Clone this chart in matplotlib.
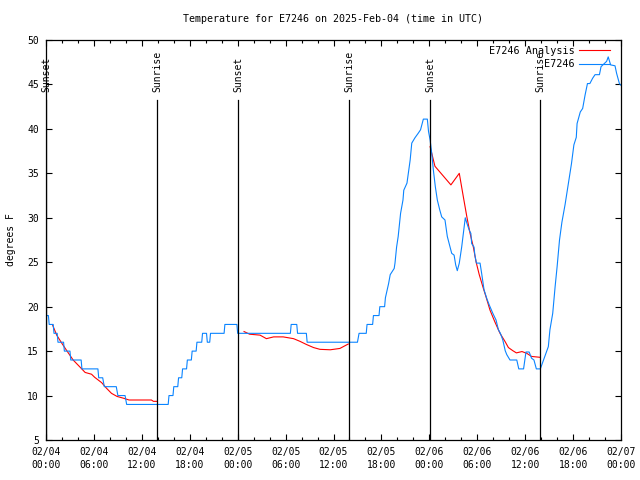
import numpy as np
import matplotlib
matplotlib.use("Agg")
import matplotlib.pyplot as plt

# hours since 2025-02-04 00:00 UTC
obs_t = [0.0, 0.3, 0.4, 0.9, 1.0, 1.4, 1.5, 2.2, 2.3, 3.0, 3.1, 4.4, 4.5, 6.5, 6.6, 7.1, 7.3, 8.8, 9.0, 9.9, 10.1,
         15.3, 15.4, 15.9, 16.0, 16.5, 16.6, 17.0, 17.1, 17.6, 17.7, 18.2, 18.3, 18.8, 18.9, 19.5, 19.6, 20.1, 20.2,
         20.5, 20.6, 22.3, 22.4, 23.9, 24.0, 30.6, 30.7, 31.4, 31.5, 32.6, 32.7, 39.0, 39.2, 40.1, 40.2, 40.9, 41.0,
         41.7, 41.8, 42.4, 42.5,
         42.9, 43.1, 43.6, 43.7, 43.9, 44.1, 44.4, 44.7, 44.8, 45.2, 45.6, 45.8, 46.2, 46.6, 46.9, 47.25, 47.75,
         47.9, 48.1, 48.3, 48.5, 48.75, 49.0, 49.3, 49.55, 49.96, 50.25, 50.6, 50.8, 51.1, 51.3, 51.5, 51.75,
         52.05, 52.25, 52.5, 52.7, 53.0, 53.2, 53.3, 53.6, 53.7, 53.9, 54.35, 54.55, 54.85, 55.2, 55.5, 55.95,
         56.35, 56.65, 56.9, 57.2, 57.5, 57.7, 58.1, 58.95, 59.2, 59.8, 60.1, 60.5, 60.8, 61.1, 61.4, 61.9,
         62.3, 62.6, 62.9, 63.1, 63.45, 63.75, 64.0, 64.3, 64.6, 65.0, 65.5, 65.8, 66.1, 66.4, 66.5, 66.9,
         67.2, 67.5, 67.8, 68.1, 68.45, 68.75, 69.3, 69.5, 70.2, 70.4, 70.7, 71.25, 71.45, 71.8, 72.0]
obs_v = [19, 19, 18, 18, 17, 17, 16, 16, 15, 15, 14, 14, 13, 13, 12, 12, 11, 11, 10, 10, 9,
         9, 10, 10, 11, 11, 12, 12, 13, 13, 14, 14, 15, 15, 16, 16, 17, 17, 16,
         16, 17, 17, 18, 18, 17, 17, 18, 18, 17, 17, 16, 16, 17, 17, 18, 18, 19,
         19, 20, 20, 21,
         22.6, 23.6, 24.3, 24.9, 26.7, 27.9, 30.5, 32, 33.1, 33.9, 36.5, 38.4, 39.0, 39.5, 39.9, 41.1, 41.1,
         39.7, 38.75, 37.25, 35.4, 33.5, 32, 30.9, 30.1, 29.75, 27.9, 26.7, 26, 25.8, 24.7, 24.05, 24.9,
         26.7, 28.2, 30.0, 29.4, 28.6, 28.25, 27.1, 26.7, 25.8, 24.9, 24.9, 23.75, 21.9, 20.9, 20.2, 19.25,
         18.5, 17.4, 17, 16.25, 15.05, 14.6, 14, 14, 13, 13, 14.9, 14.9, 14.2, 14, 13, 13,
         14, 14.75, 15.5, 17.4, 19.25, 22.25, 24.5, 27.5, 29.5, 31.5, 34.4, 36.1, 38.2, 39.05, 40.6, 41.9,
         42.3, 43.8, 45.1, 45.1, 45.7, 46.1, 46.1, 47.0, 47.6, 48.1, 47.2, 47.1, 46.25, 45.1, 44.9]

ana_t = [0.84, 1.34, 1.97, 2.6, 3.4, 4.26, 4.9, 5.7, 6.1, 6.97, 7.6, 8.2, 8.9, 9.7, 10.4, 13.2, 13.45, 13.9,
         np.nan,
         24.8, 25.5, 26.8, 27.6, 28.5, 29.7, 31.0, 31.8, 32.6, 33.5, 34.3, 35.6, 36.8, 37.85,
         np.nan,
         48.1, 48.7, 50.7, 51.75, 52.25, 52.7, 53.1, 53.5, 53.85, 54.25, 54.7, 55.1, 55.6, 56.2, 56.85,
         57.5, 57.9, 58.45, 58.9, 59.6, 60.2, 60.8, 61.9]
ana_v = [17.9, 16.8, 15.9, 15.05, 14, 13.2, 12.6, 12.4, 12.05, 11.45, 10.8, 10.25, 9.9, 9.7, 9.5, 9.5, 9.35, 9.35,
         np.nan,
         17.2, 16.9, 16.8, 16.4, 16.6, 16.6, 16.4, 16.1, 15.75, 15.4, 15.2, 15.15, 15.3, 15.8,
         np.nan,
         38.0, 35.8, 33.7, 35.0, 32.4, 30.1, 28.25, 26.75, 25.05, 23.6, 22.25, 21.1, 19.6, 18.3, 17,
         16.05, 15.4, 15.05, 14.8, 14.95, 14.75, 14.4, 14.3]

sun_t = [0.0, 13.9, 24.04, 37.94, 48.08, 61.86]
sun_lbl = ["Sunset", "Sunrise", "Sunset", "Sunrise", "Sunset", "Sunrise"]

xtick_pos = [0, 6, 12, 18, 24, 30, 36, 42, 48, 54, 60, 66, 72]
xtick_lbl = ["02/04\n00:00", "02/04\n06:00", "02/04\n12:00", "02/04\n18:00",
             "02/05\n00:00", "02/05\n06:00", "02/05\n12:00", "02/05\n18:00",
             "02/06\n00:00", "02/06\n06:00", "02/06\n12:00", "02/06\n18:00",
             "02/07\n00:00"]

FONT = "DejaVu Sans Mono"
plt.rcParams['font.family'] = [FONT]
plt.rcParams['font.size'] = 7

fig = plt.figure(figsize=(6.4, 4.8), dpi=100)
ax = fig.add_axes([46/640, 1-440/480, (621-46)/640, 400/480])

ax.plot(ana_t, ana_v, color='#ff0000', lw=0.8, label='E7246 Analysis')
ax.plot(obs_t, obs_v, color='#0a84ff', lw=0.8, label='E7246')

for t, l in zip(sun_t, sun_lbl):
    ax.plot([t, t], [5, 43.25], color='black', lw=0.9)
    ax.text(t + 0.1, 44.2, l, rotation=90, ha='center', va='bottom', fontsize=7)

ax.set_xlim(0, 72)
ax.set_ylim(5, 50)
ax.set_xticks(xtick_pos)
ax.set_xticklabels(xtick_lbl, linespacing=1.35)
ax.set_xticks(np.arange(0, 72.1, 2), minor=True)
ax.set_yticks(np.arange(5, 51, 5))
ax.tick_params(which='both', direction='in', top=True, right=True, labelsize=7, width=0.8)
ax.tick_params(which='major', length=4, pad=5)
ax.tick_params(which='minor', length=2.2)
for s in ax.spines.values():
    s.set_linewidth(0.9)

ax.set_ylabel('degrees F', fontsize=7, labelpad=8)
fig.text(333/640, 1-19/480, 'Temperature for E7246 on 2025-Feb-04 (time in UTC)', ha='center', va='center', fontsize=7.2)

leg = ax.legend(loc='upper right', bbox_to_anchor=(0.984, 0.99), frameon=False, markerfirst=False, fontsize=7.3,
                handlelength=3.0, handletextpad=0.5, labelspacing=0.3,
                borderaxespad=0.0, borderpad=0.2)

fig.savefig('out.png', dpi=100)
